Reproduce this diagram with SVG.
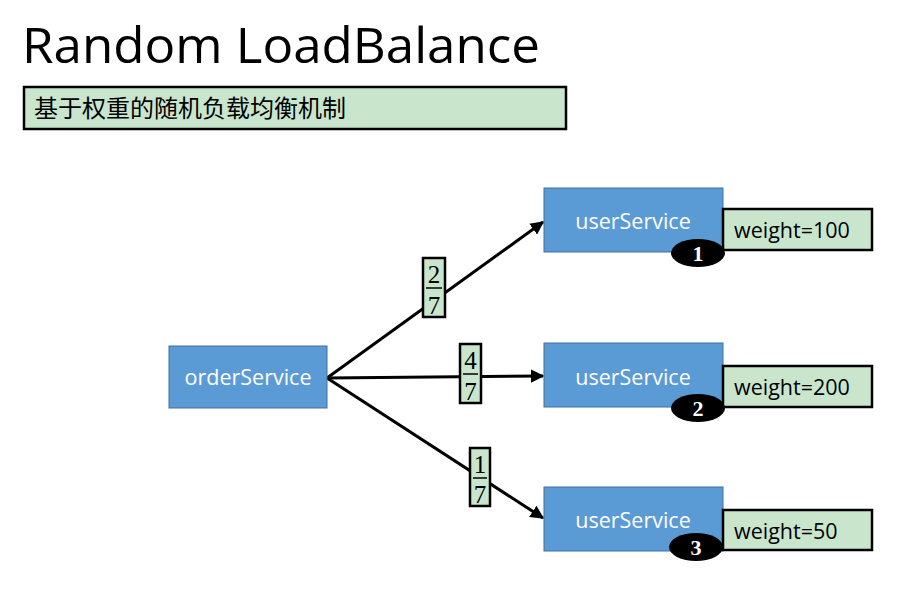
<svg xmlns="http://www.w3.org/2000/svg" width="912" height="614" viewBox="0 0 912 614">
<defs>
<style>
.svc{fill:#5B9BD5;stroke:#41719C;stroke-width:1}
.svct{font-family:"Open Sans","Liberation Sans",sans-serif;font-size:21.5px;fill:#fff;text-anchor:middle}
.wbox{fill:#C9E6CD;stroke:#000;stroke-width:2.5}
.wt{font-family:"Open Sans","Liberation Sans",sans-serif;font-size:21.5px;fill:#000}
.frac{fill:#C9E6CD;stroke:#000;stroke-width:2.5}
.ft{font-family:"Liberation Serif","DejaVu Serif",serif;font-size:25px;fill:#000;text-anchor:middle}
.badge{fill:#000}
.bt{font-family:"Liberation Serif",serif;font-size:22px;fill:#fff;text-anchor:middle;font-weight:bold}
.conn{stroke:#000;stroke-width:3;fill:none;marker-end:url(#arr)}
</style>
<marker id="arr" viewBox="0 0 10 10" refX="9" refY="5" markerWidth="4.5" markerHeight="4.5" orient="auto" markerUnits="strokeWidth">
<path d="M0,0 L10,5 L0,10 z" fill="#000"/>
</marker>
</defs>
<rect width="912" height="614" fill="#fff"/>
<g id="title">
<text x="22" y="63" font-family="'Open Sans','Liberation Sans',sans-serif" font-size="49" textLength="518" lengthAdjust="spacingAndGlyphs" fill="#000">Random LoadBalance</text>
</g>
<g id="subtitle">
<rect x="24" y="87" width="542" height="42" fill="#C9E6CD" stroke="#000" stroke-width="2.5"/>
<text x="34" y="117" font-family="'Noto Sans CJK SC','Noto Sans CJK JP',sans-serif" font-size="24" fill="#000">基于权重的随机负载均衡机制</text>
</g>
<g id="connectors">
<line class="conn" x1="327" y1="378" x2="543" y2="222"/>
<line class="conn" x1="327" y1="378" x2="543" y2="376"/>
<line class="conn" x1="327" y1="378" x2="543" y2="518"/>
</g>
<g id="frac1">
<rect class="frac" x="423" y="258" width="22" height="59"/>
<text class="ft" x="434" y="283">2</text>
<line x1="426" y1="288" x2="442" y2="288" stroke="#000" stroke-width="1.5"/>
<text class="ft" x="434" y="314">7</text>
</g>
<g id="frac2">
<rect class="frac" x="460" y="344" width="21" height="59"/>
<text class="ft" x="470.5" y="369">4</text>
<line x1="463" y1="374" x2="478" y2="374" stroke="#000" stroke-width="1.5"/>
<text class="ft" x="470.5" y="400">7</text>
</g>
<g id="frac3">
<rect class="frac" x="470" y="448" width="20" height="58"/>
<text class="ft" x="480" y="473">1</text>
<line x1="473" y1="478" x2="487" y2="478" stroke="#000" stroke-width="1.5"/>
<text class="ft" x="480" y="503">7</text>
</g>
<g id="orderService">
<rect class="svc" x="169" y="346" width="158" height="62"/>
<text class="svct" x="248" y="385">orderService</text>
</g>
<g id="userService1">
<rect class="svc" x="544" y="188" width="179" height="64"/>
<text class="svct" x="633" y="229">userService</text>
</g>
<g id="weight1">
<rect class="wbox" x="723" y="209" width="149" height="41"/>
<text class="wt" x="734" y="238">weight=100</text>
</g>
<g id="badge1">
<ellipse class="badge" cx="698" cy="253" rx="27" ry="14"/>
<text class="bt" x="698" y="261">1</text>
</g>
<g id="userService2">
<rect class="svc" x="544" y="343" width="179" height="64"/>
<text class="svct" x="633" y="385">userService</text>
</g>
<g id="weight2">
<rect class="wbox" x="723" y="366" width="149" height="41"/>
<text class="wt" x="734" y="395">weight=200</text>
</g>
<g id="badge2">
<ellipse class="badge" cx="698" cy="408" rx="27" ry="14"/>
<text class="bt" x="698" y="416">2</text>
</g>
<g id="userService3">
<rect class="svc" x="544" y="487" width="179" height="64"/>
<text class="svct" x="633" y="528">userService</text>
</g>
<g id="weight3">
<rect class="wbox" x="723" y="510" width="149" height="40"/>
<text class="wt" x="734" y="539">weight=50</text>
</g>
<g id="badge3">
<ellipse class="badge" cx="696" cy="547" rx="27" ry="14"/>
<text class="bt" x="696" y="555">3</text>
</g>
</svg>
